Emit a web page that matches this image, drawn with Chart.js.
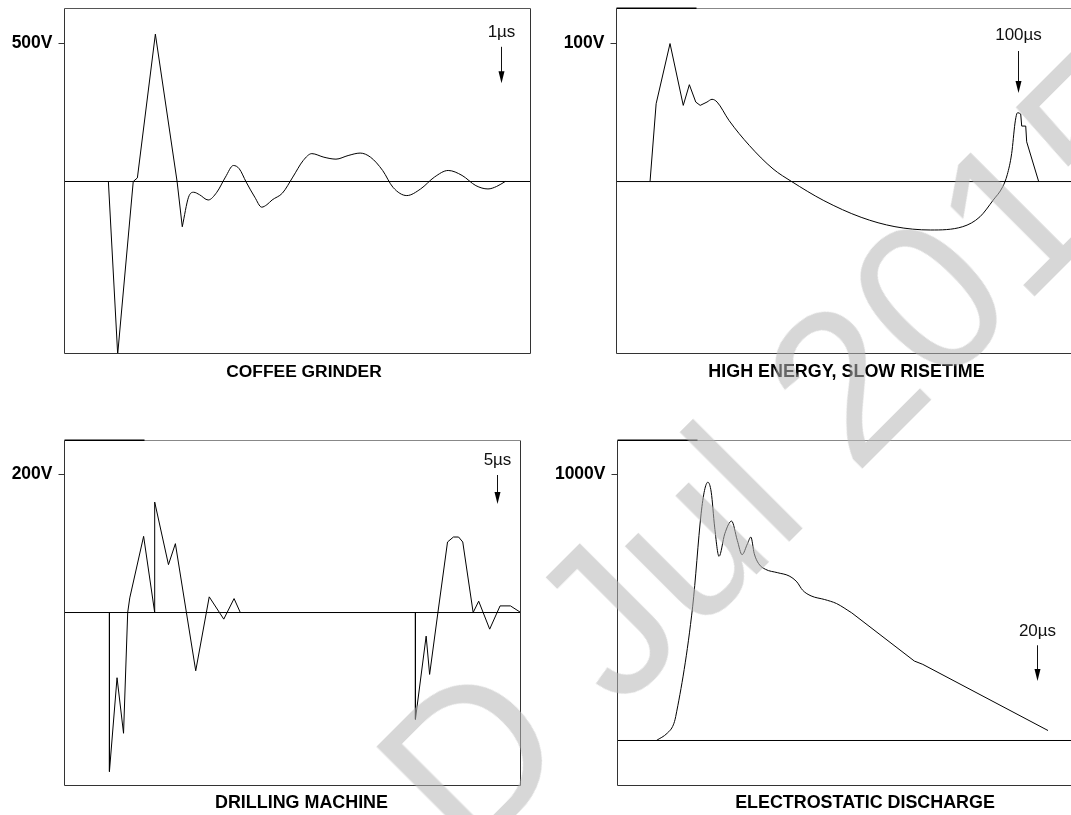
<!DOCTYPE html>
<html>
<head>
<meta charset="utf-8">
<script src="https://cdn.jsdelivr.net/npm/chart.js@4.4.1/dist/chart.umd.min.js"></script>
<style>
  html, body { margin:0; padding:0; background:#fff; }
  body { width:1071px; height:815px; overflow:hidden; position:relative; }
  canvas { position:absolute; }
  #wm { position:absolute; left:340px; top:735px; transform-origin:0 0; transform:rotate(-45deg);
        font-family:"Liberation Sans", Arial, sans-serif; font-size:214px; line-height:1; white-space:nowrap;
        color:rgba(183,183,183,0.55); pointer-events:none; z-index:5; }
</style>
</head>
<body>
<canvas id="c1" width="608" height="383" style="left:0px;top:0px"></canvas>
<canvas id="c2" width="613" height="383" style="left:540px;top:0px"></canvas>
<canvas id="c3" width="603" height="394" style="left:0px;top:420px"></canvas>
<canvas id="c4" width="650" height="394" style="left:540px;top:420px"></canvas>
<div id="wm">D Jul 2015</div>
<script>
// ---------------- DATA ----------------
// Panel titles and voltage ticks
const titles = ['COFFEE GRINDER', 'HIGH ENERGY, SLOW RISETIME', 'DRILLING MACHINE', 'ELECTROSTATIC DISCHARGE'];
const tickVolts = [500, 100, 200, 1000];
const timeMarks = ['1µs', '100µs', '5µs', '20µs'];
const timeMarkAt = [1, 100, 5, 20];            // µs

// Coffee grinder (time µs, volts)
const cgSharpT = [0.1006, 0.1219, 0.1576, 0.1671, 0.2083, 0.2581, 0.2700];
const cgSharpV = [0, -626, 0, 13, 534, 0, -164];
const cgSmoothT = [0.2700, 0.2843, 0.2961, 0.3096, 0.3294, 0.3492, 0.3690, 0.3872, 0.4007, 0.4165, 0.4363, 0.4521,
                   0.4640, 0.4759, 0.4996, 0.5234, 0.5472, 0.5670, 0.5947, 0.6224, 0.6501, 0.6778, 0.7016, 0.7293,
                   0.7530, 0.7847, 0.8164, 0.8481, 0.8797, 0.9114, 0.9431, 0.9708, 0.9906, 1.0104];
const cgSmoothV = [-164, -57, -39, -48, -67, -39, 16, 58, 46, -2, -57, -93,
                   -84, -67, -42, 16, 76, 101, 88, 81, 94, 103, 88, 40,
                   -21, -51, -27, 16, 40, 22, -15, -27, -18, 0];

// High energy, slow risetime (time µs, volts)
const heSharpT = [8.36, 9.88, 13.34, 16.64, 18.16, 19.76, 20.86];
const heSharpV = [0, 56.4, 100, 55.2, 70.2, 57.6, 55.2];
const heSmoothT = [20.86, 22.55, 23.81, 25.08, 28.04, 33.10, 39.01, 43.66, 51.68, 60.97, 69.41, 78.28, 86.30,
                   90.6, 93.9, 96.26, 97.4, 98.5, 99.33, 99.75, 100.07, 100.75];
const heSmoothV = [55.2, 57.6, 59.6, 57.6, 44.3, 26.2, 9.2, 0, -13.8, -25.9, -32.7, -35.1, -32.7,
                   -25.5, -13.4, -3.8, 5, 20.4, 42.4, 48.9, 49.9, 48.9];
const heTailT = [100.75, 101.0, 102.0, 102.24, 105.23];
const heTailV = [48.9, 40.2, 40.2, 28.8, 0];

// Drilling machine (time µs, volts)
const dmT = [0.519, 0.519, 0.607, 0.682, 0.730, 0.754, 0.914, 1.042, 1.042, 1.201, 1.281, 1.516, 1.672, 1.840,
             1.959, 2.031, 4.054, 4.054, 4.178, 4.218, 4.314, 4.425, 4.493, 4.553, 4.601, 4.721, 4.785, 4.912,
             5.032, 5.152, 5.271];
const dmV = [0, -230.4, -94.5, -175, 0, 21.2, 110.4, 0, 160.1, 69.4, 99.8, -84.4, 22.7, -9.6,
             20.2, 0, 0, -154.8, -34.2, -89.7, 0, 102.2, 109.4, 109.4, 102.2, 0, 16.4, -24.1,
             9.6, 9.6, 0];

// Electrostatic discharge (time µs, volts)
const esdSmoothT = [1.856, 2.373, 2.663, 2.776, 3.583, 3.987, 4.149, 4.310, 4.471, 4.633, 4.843, 5.117, 5.440,
                    5.714, 5.940, 6.199, 6.360, 6.522, 6.732, 7.054, 7.619, 8.184, 8.555, 8.830, 9.233, 9.879,
                    10.444, 11.170];
const esdSmoothV = [0, 27.5, 58.7, 90, 502.4, 852.3, 939.8, 971, 933.5, 802.3, 692.3, 777.3, 824.8,
                    752.3, 698.6, 739.8, 764.8, 702.3, 664.8, 643.6, 631.1, 618.6, 596.1, 564.9, 543.6, 529.9,
                    514.9, 479.9];
const esdTailT = [11.170, 14.157, 14.560, 20.533];
const esdTailV = [479.9, 298.7, 286.2, 37.5];

// Axis ranges (time µs / volts)
const xRanges = [[0, 1.0683], [0, 116.9], [0, 5.268], [0, 22.32]];
const yRanges = [[-623.2, 626.8], [-124.6, 125.4], [-250.7, 249.3], [-169.2, 1127.8]];
// time-mark annotation: [label height V, arrow start V, arrow tip V]
const markLevels = [[540, 488, 356], [105.8, 94.6, 64.1], [221.3, 199.3, 157.4], [411.7, 357.9, 224.1]];

// ---------------- BUILD ----------------
const zip = (t, v) => t.map((x, i) => ({x: x, y: v[i]}));

const framePlugin = {
  id: 'frame',
  afterDatasetsDraw(chart, args, o) {
    const {ctx, chartArea: a} = chart;
    const xs = chart.scales.x, ys = chart.scales.y;
    ctx.save();
    ctx.lineWidth = 1;
    ctx.strokeStyle = '#333';
    ctx.beginPath();
    ctx.moveTo(a.left, a.top); ctx.lineTo(a.left, a.bottom);
    ctx.lineTo(a.right, a.bottom); ctx.lineTo(a.right, a.top);
    ctx.stroke();
    ctx.strokeStyle = o.topColor;
    ctx.beginPath(); ctx.moveTo(a.left, a.top); ctx.lineTo(a.right, a.top); ctx.stroke();
    if (o.darkTop) {
      ctx.strokeStyle = '#000'; ctx.lineWidth = 1.5;
      ctx.beginPath(); ctx.moveTo(a.left, a.top - 0.25); ctx.lineTo(a.left + 80, a.top - 0.25); ctx.stroke();
    }
    // time mark with arrow
    const m = o.mark;
    const x = Math.round(xs.getPixelForValue(m.at)) + 0.5;
    ctx.fillStyle = '#111';
    ctx.font = '17px "Liberation Sans", Arial, sans-serif';
    ctx.textAlign = 'center'; ctx.textBaseline = 'middle';
    ctx.fillText(m.label, x, ys.getPixelForValue(m.levels[0]));
    const y1 = ys.getPixelForValue(m.levels[1]), y2 = ys.getPixelForValue(m.levels[2]);
    ctx.strokeStyle = '#111'; ctx.lineWidth = 1;
    ctx.beginPath(); ctx.moveTo(x, y1); ctx.lineTo(x, y2 - 8); ctx.stroke();
    ctx.beginPath(); ctx.moveTo(x - 3, y2 - 12); ctx.lineTo(x + 3, y2 - 12); ctx.lineTo(x, y2); ctx.closePath();
    ctx.fillStyle = '#000'; ctx.fill();
    ctx.restore();
  }
};

const layouts = [
  {yW: 64.5, y2W: 77.5, pad: {top: 8.5, bottom: 0.5, left: 0, right: 0}, tpad: 8, darkTop: false, fs: 17.4},
  {yW: 76.5, y2W: 67.5, pad: {top: 8.5, bottom: 0.5, left: 0, right: 0}, tpad: 8, darkTop: true, fs: 17.9},
  {yW: 64.5, y2W: 82.5, pad: {top: 20.5, bottom: 0, left: 0, right: 0}, tpad: 7.5, darkTop: true, fs: 17.9},
  {yW: 77.5, y2W: 104.5, pad: {top: 20.5, bottom: 0, left: 0, right: 0}, tpad: 7.5, darkTop: true, fs: 17.9}
];

function line(data, smooth) {
  return {data: data, borderColor: '#000', borderWidth: 1, pointRadius: 0,
          tension: smooth ? 0.4 : 0, cubicInterpolationMode: smooth ? 'monotone' : 'default', fill: false};
}

function build(id, i, datasets) {
  const L = layouts[i];
  const [x0, x1] = xRanges[i];
  const [ymin, ymax] = yRanges[i];
  const all = [{data: [{x: x0, y: 0}, {x: x1, y: 0}], borderColor: '#000', borderWidth: 1, pointRadius: 0, tension: 0}]
    .concat(datasets);
  new Chart(document.getElementById(id), {
    type: 'line',
    data: {datasets: all},
    plugins: [framePlugin],
    options: {
      responsive: false, animation: false, devicePixelRatio: 1,
      layout: {padding: L.pad},
      parsing: false,
      events: [],
      scales: {
        x: {type: 'linear', min: x0, max: x1, display: false},
        y: {type: 'linear', min: ymin, max: ymax, position: 'left',
            afterBuildTicks: s => { s.ticks = [{value: tickVolts[i]}]; },
            ticks: {callback: v => v + 'V', color: '#000', padding: 6,
                    font: {family: '"Liberation Sans", Arial, sans-serif', size: 17.5, weight: 'bold'}},
            grid: {drawOnChartArea: false, drawTicks: true, tickLength: 6, color: '#333', lineWidth: 1},
            border: {display: false},
            afterFit: s => { s.width = L.yW; s.paddingTop = 0; s.paddingBottom = 0; }},
        y2: {type: 'linear', position: 'right', display: true,
             ticks: {display: false}, grid: {display: false}, border: {display: false},
             afterFit: s => { s.width = L.y2W; s.paddingTop = 0; s.paddingBottom = 0; }}
      },
      plugins: {
        legend: {display: false},
        tooltip: {enabled: false},
        title: {display: true, text: titles[i], position: 'bottom', color: '#000',
                font: {family: '"Liberation Sans", Arial, sans-serif', size: L.fs, weight: 'bold', lineHeight: 21 / L.fs},
                padding: {top: L.tpad, bottom: 0}},
        frame: {topColor: L.darkTop ? '#888' : '#555', darkTop: L.darkTop,
                mark: {label: timeMarks[i], at: timeMarkAt[i], levels: markLevels[i]}}
      }
    }
  });
}

build('c1', 0, [line(zip(cgSharpT, cgSharpV), false), line(zip(cgSmoothT, cgSmoothV), true)]);
build('c2', 1, [line(zip(heSharpT, heSharpV), false), line(zip(heSmoothT, heSmoothV), true), line(zip(heTailT, heTailV), false)]);
build('c3', 2, [line(zip(dmT, dmV), false)]);
build('c4', 3, [line(zip(esdSmoothT, esdSmoothV), true), line(zip(esdTailT, esdTailV), false)]);
</script>
</body>
</html>
